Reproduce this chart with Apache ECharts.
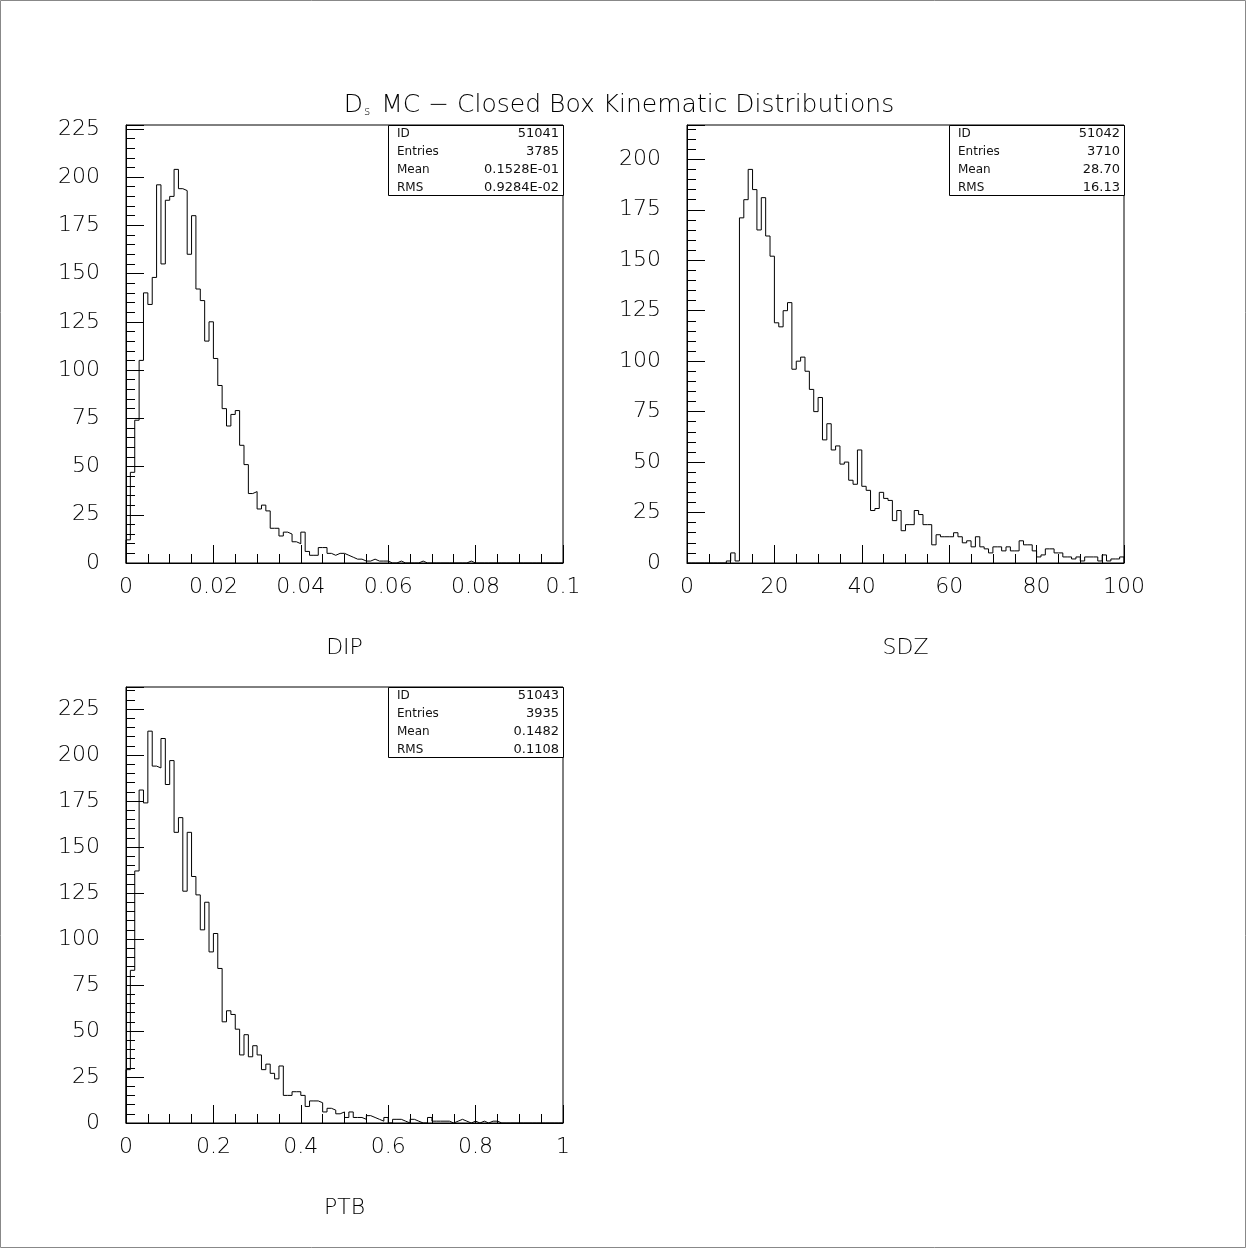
<!DOCTYPE html>
<html>
<head>
<meta charset="utf-8">
<title>Ds MC - Closed Box Kinematic Distributions</title>
<script src="https://cdn.jsdelivr.net/npm/echarts@6/dist/echarts.min.js"></script>
<style>
  html, body { margin: 0; padding: 0; background: #fff; }
  #chart { width: 1247px; height: 1249px; }
</style>
</head>
<body>
<div id="chart"></div>
<script>
// ---- histogram contents (100 bins each) ----
const dipCounts = [
  12, 47, 74, 105, 140, 134, 148, 196, 155, 188,
  190, 204, 194, 193, 160, 180, 142, 136, 115, 125,
  106, 92, 80, 71, 77, 79, 61, 51, 36, 37,
  28, 30, 27, 18, 18, 14, 16, 15, 11, 10,
  16, 6, 4, 4, 8, 8, 5, 4, 5, 5,
  4, 3, 2, 2, 1, 1, 2, 1, 1, 1,
  0, 0, 1, 0, 0, 0, 0, 1, 0, 0,
  0, 0, 0, 0, 0, 0, 0, 0, 1, 0,
  0, 0, 0, 0, 0, 0, 0, 0, 0, 0,
  0, 0, 0, 0, 0, 0, 0, 0, 0, 0
];
const sdzCounts = [
  0, 0, 0, 0, 0, 0, 0, 0, 0, 1,
  5, 1, 171, 180, 195, 185, 165, 181, 162, 152,
  119, 117, 125, 129, 96, 100, 102, 95, 86, 75,
  82, 61, 69, 56, 58, 49, 50, 41, 39, 56,
  38, 36, 26, 27, 35, 32, 31, 21, 26, 16,
  19, 19, 26, 24, 19, 19, 9, 14, 13, 13,
  13, 15, 13, 10, 11, 8, 13, 8, 7, 5,
  8, 8, 6, 8, 6, 6, 11, 9, 9, 6,
  3, 4, 7, 7, 5, 5, 3, 3, 2, 3,
  1, 3, 3, 3, 1, 4, 1, 2, 2, 3
];
const ptbCounts = [
  29, 83, 137, 181, 174, 213, 194, 193, 209, 184,
  197, 158, 166, 126, 158, 134, 124, 105, 120, 93,
  103, 84, 55, 61, 59, 51, 37, 48, 36, 42,
  37, 29, 32, 27, 24, 31, 15, 15, 17, 17,
  15, 9, 12, 12, 11, 6, 8, 7, 5, 6,
  3, 6, 3, 3, 2, 4, 3, 2, 1, 3,
  0, 2, 2, 1, 0, 2, 1, 0, 0, 3,
  1, 1, 1, 1, 0, 1, 2, 1, 0, 1,
  0, 1, 0, 1, 1, 0, 0, 0, 0, 0,
  0, 0, 0, 0, 0, 0, 0, 0, 0, 0
];

// ---- histogram ranges ----
const dipRange = [0, 0.1];
const sdzRange = [0, 100];
const ptbRange = [0, 1];
const dipMaxCount = 227;
const sdzMaxCount = 217;
const ptbMaxCount = 237;

// ---- axis tick labels ----
const dipTickLabels = ['0', '0.02', '0.04', '0.06', '0.08', '0.1'];
const sdzTickLabels = ['0', '20', '40', '60', '80', '100'];
const ptbTickLabels = ['0', '0.2', '0.4', '0.6', '0.8', '1'];
const countTickLabels = ['0', '25', '50', '75', '100', '125', '150', '175', '200', '225'];

// ---- statistics boxes ----
const statNames = ['ID', 'Entries', 'Mean', 'RMS'];
const dipStats = ['51041', '3785', '0.1528E-01', '0.9284E-02'];
const sdzStats = ['51042', '3710', '28.70', '16.13'];
const ptbStats = ['51043', '3935', '0.1482', '0.1108'];

// ---- variable names ----
const varNames = ['DIP', 'SDZ', 'PTB'];

// ---------------------------------------------------------------
const FONT = 'DejaVu Sans';
const WEIGHT = 200;
const INK = '#000';

const panels = [
  { counts: dipCounts, range: dipRange, ymax: dipMaxCount, labels: dipTickLabels, stats: dipStats, name: varNames[0],
    frame: { left: 126, top: 125, width: 437, height: 438 } },
  { counts: sdzCounts, range: sdzRange, ymax: sdzMaxCount, labels: sdzTickLabels, stats: sdzStats, name: varNames[1],
    frame: { left: 687, top: 125, width: 437, height: 438 } },
  { counts: ptbCounts, range: ptbRange, ymax: ptbMaxCount, labels: ptbTickLabels, stats: ptbStats, name: varNames[2],
    frame: { left: 126, top: 687, width: 437, height: 436 } }
];

// outline of a histogram as a step polyline over bin edges
function stepOutline(counts, range) {
  const w = (range[1] - range[0]) / counts.length;
  const pts = [[range[0], 0]];
  counts.forEach((c, i) => {
    pts.push([range[0] + i * w, c]);
    pts.push([range[0] + (i + 1) * w, c]);
  });
  pts.push([range[1], 0]);
  return pts;
}

function labelFor(list) {
  return function (v) {
    const hit = list.find(l => Math.abs(parseFloat(l) - v) < 1e-9);
    return hit === undefined ? '' : hit;
  };
}

const textBase = { fontFamily: FONT, fontWeight: WEIGHT, color: INK };

const grid = [], xAxis = [], yAxis = [], series = [], graphic = [];

panels.forEach((p, k) => {
  grid.push(Object.assign({ show: true, borderColor: INK, borderWidth: 1, containLabel: false }, p.frame));

  const span = p.range[1] - p.range[0];
  xAxis.push({
    gridIndex: k, type: 'value', min: p.range[0], max: p.range[1], interval: span / 5,
    axisLine: { show: true, onZero: false, lineStyle: { color: INK, width: 1 } },
    axisTick: { show: true, inside: true, length: 18, lineStyle: { color: INK, width: 1 } },
    minorTick: { show: true, splitNumber: 4, length: 9, lineStyle: { color: INK, width: 1 } },
    splitLine: { show: false }, minorSplitLine: { show: false },
    axisLabel: Object.assign({ margin: 13, fontSize: 22, formatter: labelFor(p.labels), hideOverlap: false }, textBase),
    name: p.name, nameLocation: 'middle', nameGap: 74,
    nameTextStyle: Object.assign({ fontSize: 22, verticalAlign: 'top' }, textBase)
  });

  // major count ticks with labels
  yAxis.push({
    gridIndex: k, type: 'value', min: 0, max: p.ymax, interval: 25, position: 'left',
    axisLine: { show: true, onZero: false, lineStyle: { color: INK, width: 1 } },
    axisTick: { show: true, inside: true, length: 18, lineStyle: { color: INK, width: 1 } },
    splitLine: { show: false },
    axisLabel: Object.assign({ margin: 26, fontSize: 22, formatter: labelFor(countTickLabels), hideOverlap: false }, textBase)
  });
  // fine count ticks every 5 entries
  yAxis.push({
    gridIndex: k, type: 'value', min: 0, max: p.ymax, interval: 5, position: 'left', offset: 0,
    axisLine: { show: false },
    axisTick: { show: true, inside: true, length: 9, lineStyle: { color: INK, width: 1 } },
    splitLine: { show: false },
    axisLabel: { show: false }
  });

  series.push({
    type: 'line', xAxisIndex: k, yAxisIndex: 2 * k,
    data: stepOutline(p.counts, p.range),
    showSymbol: false, symbol: 'none', clip: true, silent: true,
    lineStyle: { color: INK, width: 1 }
  });

  // statistics box in the upper right corner of the frame
  const boxW = 175, boxH = 70, rowY = [9, 27, 45, 63];
  const bx = p.frame.left + p.frame.width - boxW, by = p.frame.top;
  const kids = [{
    type: 'rect', shape: { x: 0.5, y: 0.5, width: boxW, height: boxH },
    style: { fill: '#fff', stroke: INK, lineWidth: 1 }
  }];
  statNames.forEach((nm, i) => {
    kids.push({ type: 'text', x: 9, y: rowY[i],
      style: { text: nm, fontSize: 12, fontFamily: FONT, fontWeight: 'normal', fill: '#111', align: 'left', verticalAlign: 'middle' } });
    kids.push({ type: 'text', x: boxW - 4, y: rowY[i],
      style: { text: p.stats[i], fontSize: 13, fontFamily: FONT, fontWeight: 'normal', fill: '#111', align: 'right', verticalAlign: 'middle' } });
  });
  graphic.push({ type: 'group', x: bx, y: by, z: 100, children: kids });
});

// page title, centred over the two upper frames
graphic.push({
  type: 'text', x: 619, y: 103, z: 100,
  style: {
    text: '{m|D}{s|s}{m| MC \u2212 Closed Box Kinematic Distributions}',
    align: 'center', verticalAlign: 'middle',
    rich: {
      m: { fontSize: 25, fontFamily: FONT, fontWeight: WEIGHT, fill: INK, lineHeight: 29, verticalAlign: 'bottom' },
      s: { fontSize: 12, fontFamily: FONT, fontWeight: WEIGHT, fill: INK, lineHeight: 12, verticalAlign: 'bottom', padding: [0, 3, 0, 1] }
    }
  }
});

// page border
graphic.push({
  type: 'rect', z: 0, shape: { x: 0.5, y: 0.5, width: 1245, height: 1247 },
  style: { fill: 'none', stroke: '#888', lineWidth: 1 }
});

const chart = echarts.init(document.getElementById('chart'), null, { renderer: 'canvas' });
chart.setOption({
  backgroundColor: '#fff',
  animation: false,
  grid: grid,
  xAxis: xAxis,
  yAxis: yAxis,
  series: series,
  graphic: graphic
});
</script>
</body>
</html>
